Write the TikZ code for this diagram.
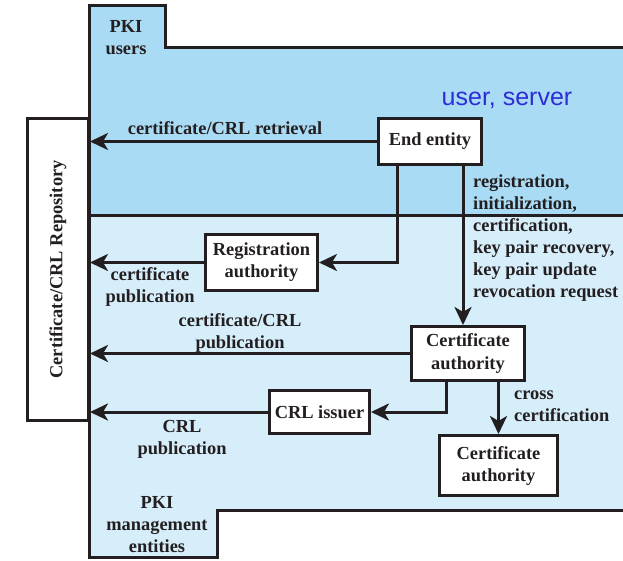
\documentclass[tikz,border=0pt]{standalone}
\usepackage{graphicx}
\usepackage{fontspec}
\setmainfont{Liberation Serif}
\newfontfamily\notesans{Liberation Sans}
\usetikzlibrary{arrows.meta,calc}

\definecolor{ink}{RGB}{35,31,32}
\definecolor{usersblue}{RGB}{170,219,244}
\definecolor{mgmtblue}{RGB}{214,237,250}
\definecolor{notecol}{RGB}{45,45,215}

% invisible strut fixing the height of a label's first line
\newcommand\firstline{\rule{0pt}{13pt}}

\tikzset{
  frame/.style={draw=ink, line width=3pt},
  entity/.style={draw=ink, line width=3pt, fill=white, inner sep=0pt,
    align=center, text=ink, font=\bfseries\fontsize{18.4}{22}\selectfont},
  flow/.style={draw=ink, line width=3pt,
    -{Stealth[length=18pt,width=17pt,inset=5pt]}},
  lbl/.style={inner sep=0pt, text=ink,
    font=\bfseries\fontsize{18.4}{22}\selectfont},
}

\begin{document}
\begin{tikzpicture}[x=1pt, y=-1pt]
\useasboundingbox (0,0) rectangle (623,560);

% domains: PKI users (top) and PKI management entities (bottom)
\fill[usersblue] (89,5) -- (165,5) -- (165,47) -- (623,47) -- (623,215) -- (89,215) -- cycle;
\fill[mgmtblue] (89,215) -- (623,215) -- (623,510) -- (217,510) -- (217,557) -- (89,557) -- cycle;
\draw[frame] (623,47) -- (165,47) -- (165,5) -- (89,5) -- (89,557) -- (217,557) -- (217,510) -- (623,510);
\draw[frame] (89,215) -- (623,215);

\node[lbl, align=center, anchor=north] (usersLbl) at (126,19) {\firstline PKI\\users};
\node[lbl, align=center, anchor=north] (mgmtLbl) at (157,495) {\firstline PKI\\management\\entities};
\node[inner sep=0pt, anchor=base, text=notecol, font=\notesans\fontsize{25}{30}\selectfont] (note) at (507,105) {user, server};

% components
\node[entity, minimum width=61, minimum height=302] (repo) at (58,269.5)
  {\rotatebox{90}{Certificate/CRL Repository}};
\node[entity, minimum width=103, minimum height=46] (ee) at (430,141.5) {End entity};
\node[entity, minimum width=112, minimum height=56] (ra) at (261.5,262.5) {Registration\\authority};
\node[entity, minimum width=113, minimum height=54] (ca) at (468,353.5) {Certificate\\authority};
\node[entity, minimum width=100, minimum height=43] (crl) at (319.5,412) {CRL issuer};
\node[entity, minimum width=118, minimum height=60] (ca2) at (498.5,465.5) {Certificate\\authority};

% connectors
\draw[flow] (ee.west) -- (ee.west -| repo.east);
\draw[flow] (ra.west) -- (ra.west -| repo.east);
\draw[flow] (ca.west) -- (ca.west -| repo.east);
\draw[flow] (crl.west) -- (crl.west -| repo.east);

\coordinate (eeLeft) at ($(ee.south west)+(20,0)$);
\coordinate (eeRight) at ($(ee.south east)+(-20,0)$);
\draw[flow] (eeLeft) |- (ra.east);
\draw[flow] (eeRight) -- (eeRight |- ca.north);

\coordinate (caLeft) at ($(ca.south west)+(36,0)$);
\draw[flow] (caLeft) |- (crl.east);
\draw[flow] (ca2.north |- ca.south) -- (ca2.north);

% connector labels
\node[lbl, anchor=base] (retrLbl) at (225,134) {certificate/CRL retrieval};
\node[lbl, align=left, anchor=north west] (opsLbl) at (473,174)
  {\firstline registration,\\initialization,\\certification,\\key pair recovery,\\key pair update\\revocation request};
\node[lbl, align=center, anchor=north] (raPubLbl) at (150,267) {\firstline certificate\\publication};
\node[lbl, align=center, anchor=north] (caPubLbl) at (240,313) {\firstline certificate/CRL\\publication};
\node[lbl, align=center, anchor=north] (crlPubLbl) at (182,419) {\firstline CRL\\publication};
\node[lbl, align=left, anchor=north west] (crossLbl) at (514,386) {\firstline cross\\certification};
\end{tikzpicture}
\end{document}
